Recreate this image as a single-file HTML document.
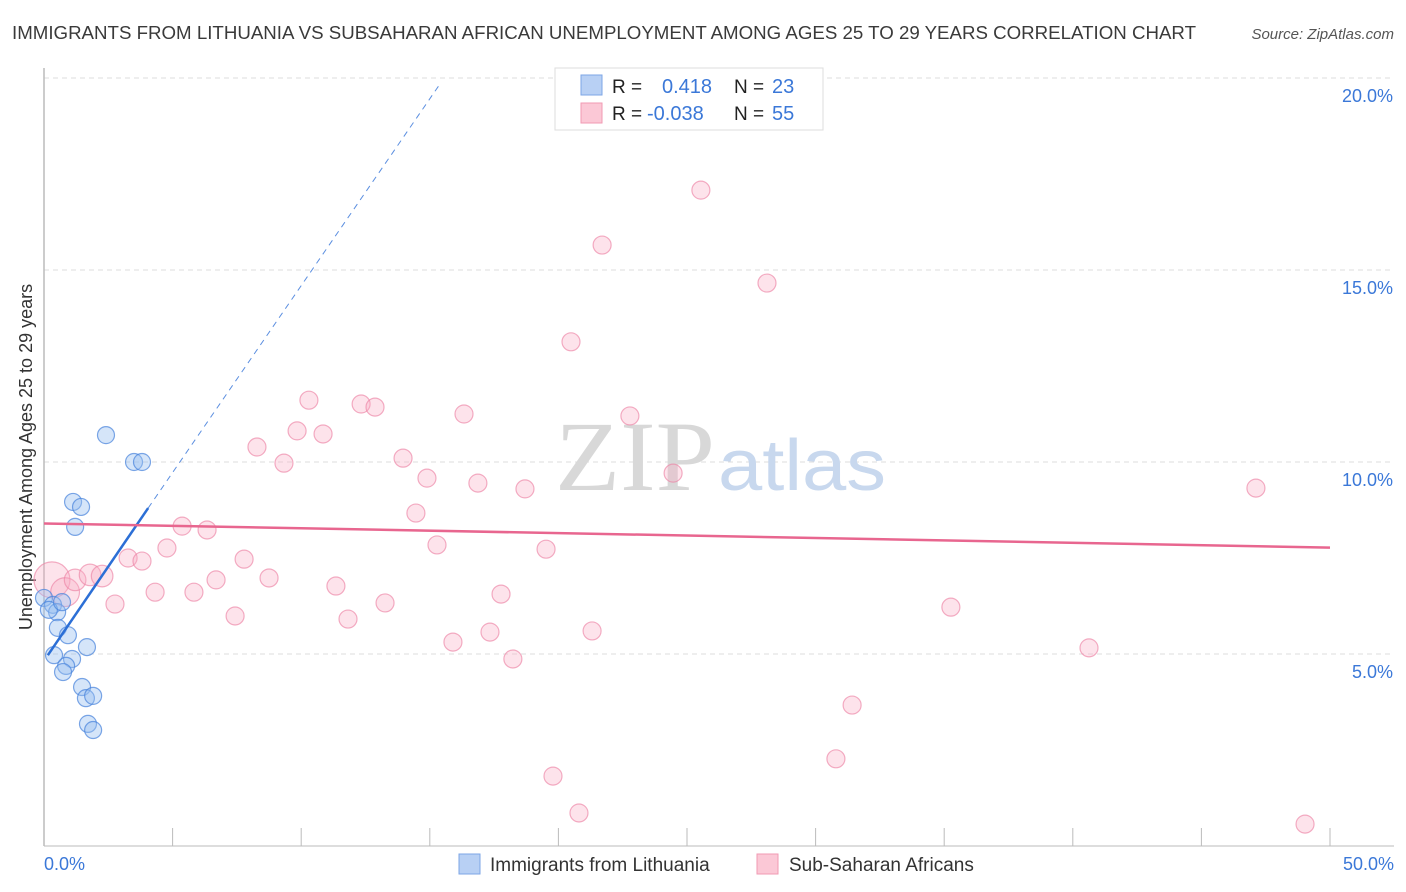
<!DOCTYPE html>
<html><head><meta charset="utf-8"><style>
body{margin:0;background:#fff;font-family:"Liberation Sans",sans-serif}
svg{display:block}
</style></head><body>
<svg id="chart" width="1406" height="892" xmlns="http://www.w3.org/2000/svg">
<text x="12" y="39" font-size="18" fill="#3a3a3a" textLength="1184" lengthAdjust="spacingAndGlyphs">IMMIGRANTS FROM LITHUANIA VS SUBSAHARAN AFRICAN UNEMPLOYMENT AMONG AGES 25 TO 29 YEARS CORRELATION CHART</text>
<text x="1394" y="39" font-size="15" fill="#555" text-anchor="end" font-style="italic">Source: ZipAtlas.com</text>
<g id="grid"></g>
<g id="xticks"></g>
<line x1="44" y1="68" x2="44" y2="846" stroke="#bbb" stroke-width="1.5"/>
<line x1="44" y1="846" x2="1394" y2="846" stroke="#bbb" stroke-width="1"/>
<text x="32" y="457" font-size="18" fill="#333" text-anchor="middle" transform="rotate(-90 32 457)">Unemployment Among Ages 25 to 29 years</text>
<text x="555" y="490" font-size="100" fill="#d8d8d8" font-family="Liberation Serif,serif" textLength="160" lengthAdjust="spacingAndGlyphs">ZIP</text>
<text x="718" y="490" font-size="72" fill="#c8d8ee" textLength="168" lengthAdjust="spacingAndGlyphs">atlas</text>
<g id="pink"></g>
<g id="blue"></g>
<g id="trends"></g>
<text x="44" y="870" font-size="18" fill="#3b78d8">0.0%</text>
<text x="1394" y="870" font-size="18" fill="#3b78d8" text-anchor="end">50.0%</text>
<g>
<rect x="555" y="68" width="268" height="62" fill="#fff" stroke="#ddd"/>
<rect x="581" y="75" width="21" height="20" fill="#b8d0f4" stroke="#7da6e6"/>
<rect x="581" y="103" width="21" height="20" fill="#fbc8d6" stroke="#f09ab3"/>
<text x="612" y="93" font-size="19" fill="#222">R = <tspan x="662" fill="#3b78d8" font-size="20">0.418</tspan><tspan x="734" fill="#222">N = </tspan><tspan x="772" fill="#3b78d8" font-size="20">23</tspan></text>
<text x="612" y="120" font-size="19" fill="#222">R = <tspan x="647" fill="#3b78d8" font-size="20">-0.038</tspan><tspan x="734" fill="#222">N = </tspan><tspan x="772" fill="#3b78d8" font-size="20">55</tspan></text>
</g>
<g>
<rect x="459" y="854" width="21" height="20" fill="#b8d0f4" stroke="#7da6e6"/>
<text x="490" y="871" font-size="19" fill="#333">Immigrants from Lithuania</text>
<rect x="757" y="854" width="21" height="20" fill="#fbc8d6" stroke="#f09ab3"/>
<text x="789" y="871" font-size="19" fill="#333">Sub-Saharan Africans</text>
</g>
</svg>
<script>
const yTicks=[5,10,15,20];
const yTickLabels=["5.0%","10.0%","15.0%","20.0%"];
const xTicks=[0,5,10,15,20,25,30,35,40,45,50];
const blueX=[2.41,3.50,3.81,1.13,1.44,1.21,0,0.35,0.51,0.19,0.70,0.54,0.93,1.67,0.39,1.09,0.86,0.74,1.48,1.63,1.91,1.71,1.91];
const blueY=[10.70,10.0,10.0,8.96,8.83,8.31,6.46,6.28,6.09,6.15,6.35,5.68,5.49,5.18,4.97,4.87,4.69,4.53,4.14,3.85,3.91,3.18,3.02];
const pinkX=[0.31,0.82,1.21,1.79,2.26,2.76,3.27,3.81,4.32,4.78,5.37,6.34,5.83,6.69,7.43,7.78,8.28,8.75,9.33,9.84,10.30,10.85,11.35,11.82,12.33,12.87,13.26,13.96,14.46,14.89,15.28,15.90,16.33,16.87,17.34,17.77,18.23,18.70,19.52,19.79,20.49,20.80,21.31,21.70,22.78,24.46,25.54,28.11,30.79,31.42,35.26,40.63,47.12,49.03,23.83];
const pinkY=[6.93,6.61,6.93,7.06,7.03,6.30,7.50,7.42,6.61,7.76,8.33,8.23,6.61,6.93,5.99,7.47,10.39,6.98,9.97,10.81,11.61,10.73,6.77,5.91,11.51,11.43,6.33,10.10,8.67,9.58,7.84,5.31,11.25,9.45,5.57,6.56,4.87,9.30,7.73,1.82,13.13,0.86,5.60,15.65,11.20,9.71,17.08,14.66,2.27,3.67,6.22,5.16,9.32,0.57,19.35];
const pinkSize=[2,1.6,1.2,1.2,1.2,1,1,1,1,1,1,1,1,1,1,1,1,1,1,1,1,1,1,1,1,1,1,1,1,1,1,1,1,1,1,1,1,1,1,1,1,1,1,1,1,1,1,1,1,1,1,1,1,1,1];
const blueTrend=[0.15,4.97,4.05,8.8];
const blueDash=[4.05,8.8,15.35,19.8];
const pinkTrend=[0,8.4,50,7.77];
const NS='http://www.w3.org/2000/svg';
const sx=v=>44+v*25.72, sy=v=>846-v*38.4;
function mk(t,a,p){const e=document.createElementNS(NS,t);for(const k in a)e.setAttribute(k,a[k]);document.getElementById(p).appendChild(e);return e;}
yTicks.forEach((t,i)=>{
 const l=mk('line',{x1:44,x2:1394,y1:sy(t),y2:sy(t),stroke:'#ddd','stroke-dasharray':'5,4'},'grid');
 
 
 const tx=mk('text',{x:1393,y:sy(t)+24,'font-size':18,fill:'#3b78d8','text-anchor':'end'},'grid');
 tx.textContent=yTickLabels[i];
 
 
});
xTicks.forEach(t=>{
 const l=mk('line',{x1:sx(t),x2:sx(t),y1:828,y2:846,stroke:'#bbb'},'xticks');
 
 
});
pinkX.forEach((x,i)=>{
 const c=mk('circle',{cx:sx(x),cy:sy(pinkY[i]),r:9*pinkSize[i],fill:'rgba(248,170,195,0.33)',stroke:'rgba(236,130,165,0.65)','stroke-width':1.2},'pink');
 
 
});
blueX.forEach((x,i)=>{
 const c=mk('circle',{cx:sx(x),cy:sy(blueY[i]),r:8.5,fill:'rgba(150,190,240,0.4)',stroke:'rgba(70,130,220,0.7)','stroke-width':1.2},'blue');
 
 
});
let l=mk('line',{x1:sx(blueTrend[0]),y1:sy(blueTrend[1]),x2:sx(blueTrend[2]),y2:sy(blueTrend[3]),stroke:'#2c6fd6','stroke-width':2.5},'trends');


l=mk('line',{x1:sx(blueDash[0]),y1:sy(blueDash[1]),x2:sx(blueDash[2]),y2:sy(blueDash[3]),stroke:'#5c8fe0','stroke-width':1,'stroke-dasharray':'6,5'},'trends');


l=mk('line',{x1:sx(pinkTrend[0]),y1:sy(pinkTrend[1]),x2:sx(pinkTrend[2]),y2:sy(pinkTrend[3]),stroke:'#e8668f','stroke-width':2.5},'trends');


</script>
</body></html>
